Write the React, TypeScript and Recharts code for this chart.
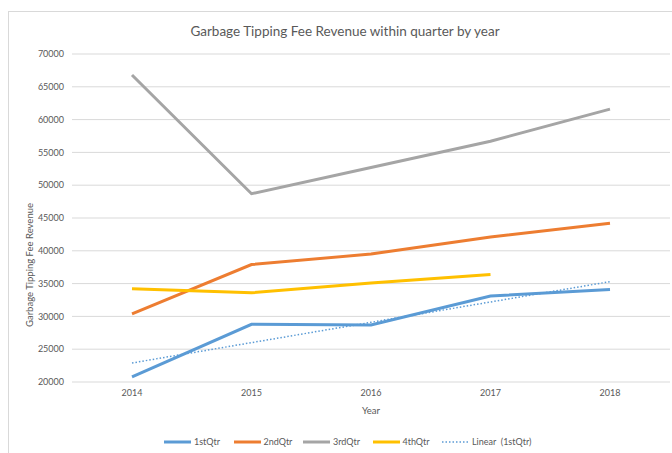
import { LineChart, Line, XAxis, YAxis, CartesianGrid } from 'recharts';

const years = ['2014', '2015', '2016', '2017', '2018'];
const q1 = [20800, 28800, 28700, 33100, 34100];
const q2 = [30400, 37900, 39500, 42100, 44200];
const q3 = [66800, 48700, 52700, 56700, 61600];
const q4 = [34200, 33600, 35100, 36400, null];
const q1Linear = [22900, 26000, 29100, 32200, 35300];
const yTicks = [20000, 25000, 30000, 35000, 40000, 45000, 50000, 55000, 60000, 65000, 70000];

const data = years.map((year, i) => ({
  year,
  q1: q1[i],
  q2: q2[i],
  q3: q3[i],
  q4: q4[i],
  lin: q1Linear[i],
}));

const FONT = 'Lato, "Open Sans", sans-serif';
const TEXT = '#595959';

const legendItems = [
  { name: '1stQtr', color: '#5b9bd5', dotted: false },
  { name: '2ndQtr', color: '#ed7d31', dotted: false },
  { name: '3rdQtr', color: '#a5a5a5', dotted: false },
  { name: '4thQtr', color: '#ffc000', dotted: false },
  { name: 'Linear  (1stQtr)', color: '#5b9bd5', dotted: true },
];

function YLabel() {
  return (
    <text
      x={31}
      y={265}
      transform="rotate(-90 31 265)"
      textAnchor="middle"
      dominantBaseline="middle"
      fill={TEXT}
      fontSize={9.5}
      fontFamily={FONT}
    >
      Garbage Tipping Fee Revenue
    </text>
  );
}

export default function App() {
  return (
    <div style={{ position: 'absolute', left: 0, top: 0, width: 672, height: 453, background: '#fff', overflow: 'hidden', fontFamily: FONT }}>
      <div style={{ position: 'absolute', left: 8, top: 11, width: 680, height: 460, border: '1px solid #d9d9d9', boxSizing: 'border-box' }} />
      <div style={{ position: 'absolute', left: 0, width: 690, top: 23, textAlign: 'center', fontSize: 13.5, color: TEXT }}>
        Garbage Tipping Fee Revenue within quarter by year
      </div>
      <div style={{ position: 'absolute', left: 0, top: 0 }}>
        <LineChart width={672} height={453} data={data} margin={{ top: 54, right: 2, left: 0, bottom: 39 }}>
          <CartesianGrid vertical={false} stroke="#d9d9d9" strokeWidth={1} />
          <XAxis
            dataKey="year"
            padding={{ left: 60, right: 60 }}
            axisLine={false}
            tickLine={false}
            height={32}
            tick={{ fill: TEXT, fontSize: 9, fontFamily: FONT }}
            label={{ value: 'Year', position: 'insideBottom', offset: 0, fill: TEXT, fontSize: 9.5, fontFamily: FONT }}
          />
          <YAxis
            width={72}
            domain={[20000, 70000]}
            ticks={yTicks}
            axisLine={false}
            tickLine={false}
            tick={{ fill: TEXT, fontSize: 9, fontFamily: FONT }}
            label={{ content: () => <YLabel /> }}
          />
          <Line dataKey="q1" stroke="#5b9bd5" strokeWidth={3} dot={false} isAnimationActive={false} />
          <Line dataKey="q2" stroke="#ed7d31" strokeWidth={3} dot={false} isAnimationActive={false} />
          <Line dataKey="q3" stroke="#a5a5a5" strokeWidth={3} dot={false} isAnimationActive={false} />
          <Line dataKey="q4" stroke="#ffc000" strokeWidth={3} dot={false} isAnimationActive={false} />
          <Line dataKey="lin" stroke="#5b9bd5" strokeWidth={1.5} strokeDasharray="1.5 2" dot={false} isAnimationActive={false} />
        </LineChart>
      </div>
      <div style={{ position: 'absolute', left: 164, top: 436, display: 'flex', alignItems: 'center', fontSize: 9, color: TEXT }}>
        {legendItems.map((item) => (
          <div key={item.name} style={{ display: 'flex', alignItems: 'center', width: item.dotted ? 100 : 69.5 }}>
            <svg width={27} height={4} style={{ marginRight: 3 }}>
              <line
                x1={0}
                y1={2}
                x2={27}
                y2={2}
                stroke={item.color}
                strokeWidth={item.dotted ? 1.5 : 3}
                strokeDasharray={item.dotted ? '1.5 2' : undefined}
              />
            </svg>
            <span style={{ whiteSpace: 'pre', lineHeight: '12px' }}>{item.name}</span>
          </div>
        ))}
      </div>
    </div>
  );
}
